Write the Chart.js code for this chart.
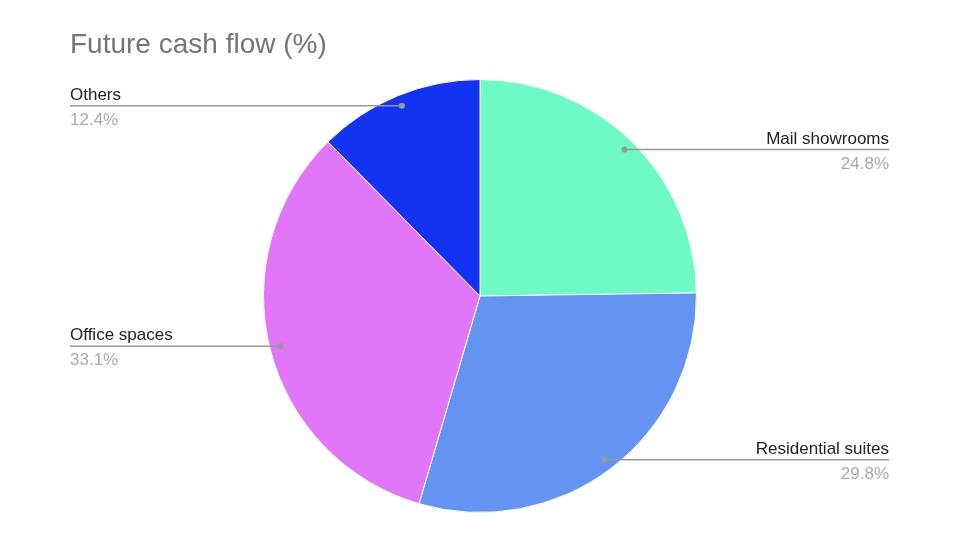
<!DOCTYPE html>
<html>
<head>
<meta charset="utf-8">
<script src="https://cdn.jsdelivr.net/npm/chart.js@4"></script>
<style>
  html, body { margin: 0; padding: 0; background: #fff; }
  #wrap { width: 960px; height: 540px; }
</style>
</head>
<body>
<div id="wrap"><canvas id="cashChart" width="960" height="540"></canvas></div>
<script>
var categories = ['Mail showrooms', 'Residential suites', 'Office spaces', 'Others'];
var shares = [24.8, 29.8, 33.1, 12.4];
var sliceColors = ['#6efac4', '#6494f1', '#e176f8', '#1432f1'];
var chartTitle = 'Future cash flow (%)';

var FONT = '"Liberation Sans", Arial, sans-serif';

// title + leader-line labels, drawn on top of the pie
var labelPlugin = {
  id: 'pieLabels',
  afterDraw: function(chart) {
    var c = chart.ctx;
    c.save();
    c.font = '28px ' + FONT;
    c.fillStyle = '#757575';
    c.textAlign = 'left';
    c.textBaseline = 'alphabetic';
    c.fillText(chartTitle, 70, 53);

    var meta = chart.getDatasetMeta(0);
    meta.data.forEach(function(arc, i) {
      var mid = (arc.startAngle + arc.endAngle) / 2;
      var r = arc.outerRadius * 0.95;
      var px = arc.x + Math.cos(mid) * r;
      var py = arc.y + Math.sin(mid) * r;
      var right = Math.cos(mid) > 0;
      var endX = right ? 889 : 70;

      c.strokeStyle = '#999';
      c.lineWidth = 1.5;
      c.beginPath();
      c.moveTo(px, py);
      c.lineTo(endX, py);
      c.stroke();
      c.fillStyle = '#999';
      c.beginPath();
      c.arc(px, py, 3, 0, Math.PI * 2);
      c.fill();

      c.textAlign = right ? 'right' : 'left';
      c.font = '17px ' + FONT;
      c.fillStyle = '#222';
      c.fillText(categories[i], endX, py - 6);
      c.fillStyle = '#aaa';
      c.fillText(shares[i].toFixed(1) + '%', endX, py + 19);
    });
    c.restore();
  }
};

var ctx = document.getElementById('cashChart').getContext('2d');
var cashChart = new Chart(ctx, {
  type: 'pie',
  data: {
    labels: categories,
    datasets: [{
      data: shares,
      backgroundColor: sliceColors,
      borderColor: '#ffffff',
      borderWidth: 1,
      hoverOffset: 0
    }]
  },
  options: {
    responsive: false,
    maintainAspectRatio: false,
    animation: false,
    layout: { padding: { top: 79, bottom: 27, left: 0, right: 0 } },
    plugins: {
      legend: { display: false },
      tooltip: { enabled: false },
      title: { display: false }
    }
  },
  plugins: [labelPlugin]
});
</script>
</body>
</html>
